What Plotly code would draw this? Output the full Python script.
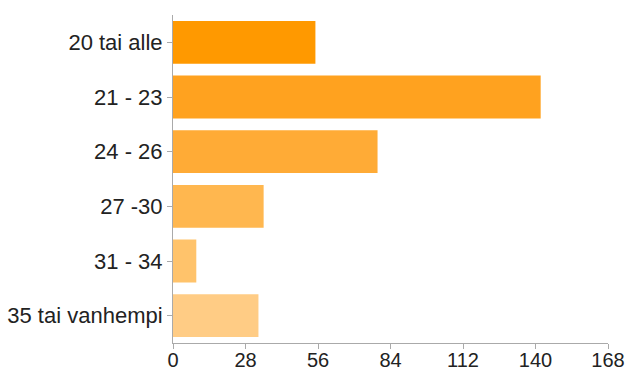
import plotly.graph_objects as go

categories = ["20 tai alle", "21 - 23", "24 - 26", "27 -30", "31 - 34", "35 tai vanhempi"]
values = [55, 142, 79, 35, 9, 33]
colors = ["#ff9900", "#ffa21f", "#ffab36", "#ffb74f", "#ffc36b", "#ffcc85"]
x_ticks = [0, 28, 56, 84, 112, 140, 168]

fig = go.Figure(go.Bar(
    x=values, y=categories, orientation="h",
    marker=dict(color=colors, line=dict(width=0)),
    hoverinfo="x+y",
))

yfont = dict(family="Liberation Sans, Arial, sans-serif", size=22, color="#222222")
xfont = dict(family="Liberation Sans, Arial, sans-serif", size=20, color="#222222")

fig.update_layout(
    width=626, height=370,
    margin=dict(l=173, r=18, t=15, b=27, autoexpand=False),
    paper_bgcolor="white", plot_bgcolor="white",
    bargap=0.215,
    showlegend=False,
    font=yfont,
    xaxis=dict(
        range=[0, 168], tickvals=x_ticks, ticktext=[str(v) for v in x_ticks],
        showgrid=False, zeroline=False, automargin=False,
        showline=True, linecolor="#aaaaaa", linewidth=1,
        ticks="outside", ticklen=5, tickcolor="#aaaaaa",
        tickfont=xfont, fixedrange=True,
        ticklabeloverflow="allow", ticklabelstandoff=-6,
    ),
    yaxis=dict(
        categoryorder="array", categoryarray=categories, autorange="reversed",
        showgrid=False, zeroline=False, automargin=False,
        showline=True, linecolor="#aaaaaa", linewidth=1,
        ticks="outside", ticklen=5, tickcolor="#aaaaaa",
        tickfont=yfont, fixedrange=True,
    ),
)

fig.write_html("out.html")
